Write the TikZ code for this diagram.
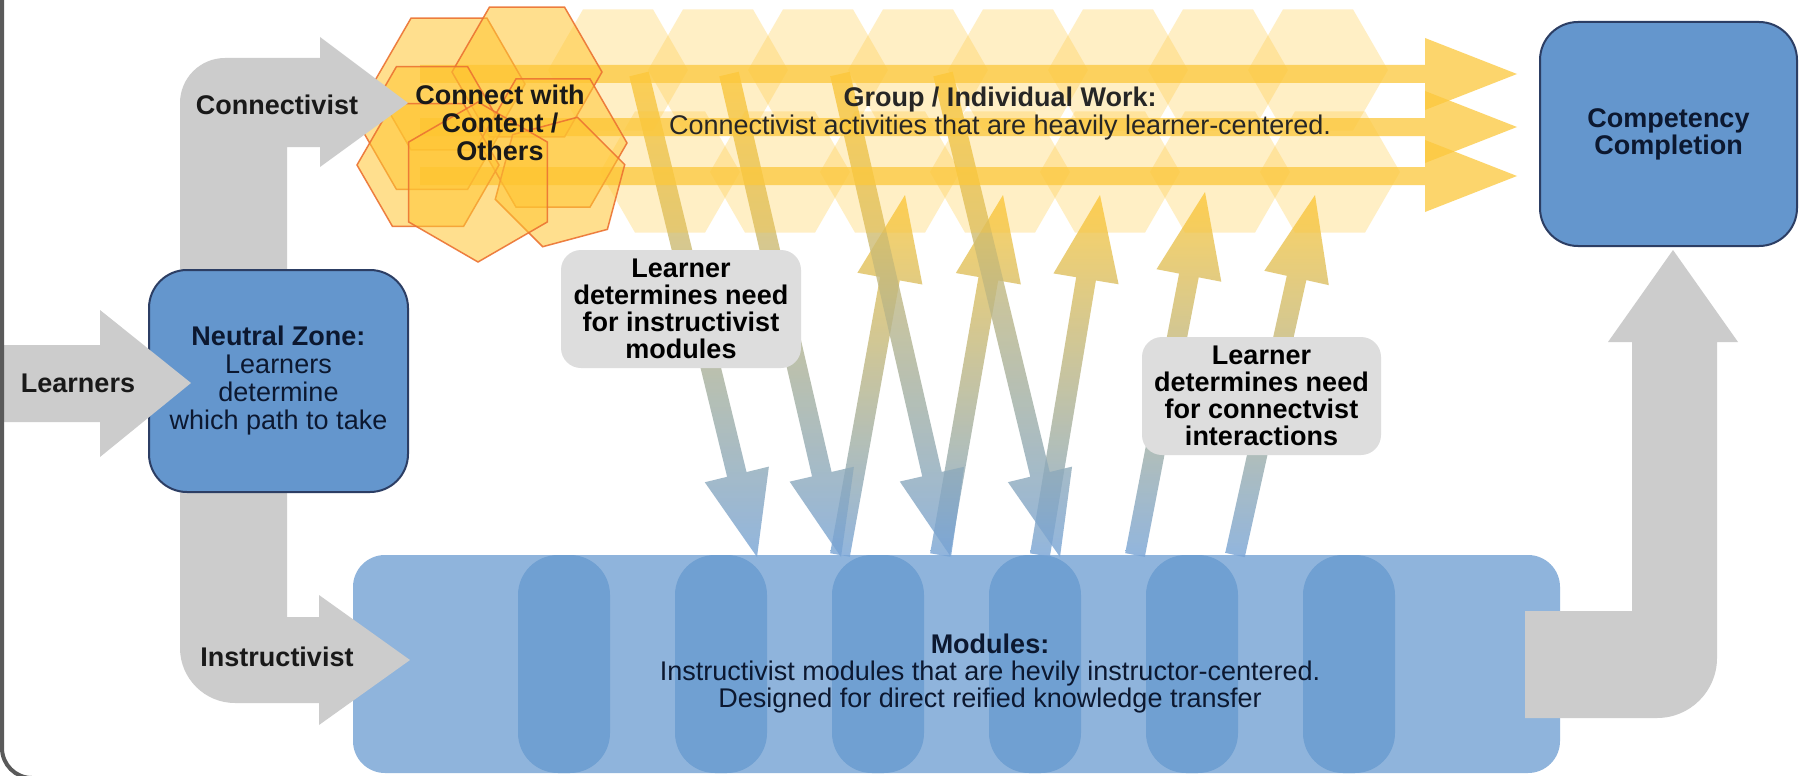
\documentclass[tikz,border=0pt]{standalone}
\usepackage{fontspec}
\setmainfont{Liberation Sans}
\usetikzlibrary{calc,shapes.geometric}

\definecolor{grayarrow}{RGB}{204,204,204}
\definecolor{boxblue}{RGB}{100,150,205}
\definecolor{boxedge}{RGB}{44,62,100}
\definecolor{modblue}{RGB}{143,180,220}
\definecolor{pillblue}{RGB}{112,160,210}
\definecolor{notegray}{RGB}{221,221,221}
\definecolor{hexyellow}{RGB}{255,198,50}
\definecolor{hexedge}{RGB}{236,115,50}
\definecolor{arrowyellow}{RGB}{252,200,60}
\definecolor{arrowblue}{RGB}{118,163,214}
\definecolor{textnavy}{RGB}{12,24,48}
\definecolor{frameline}{RGB}{90,90,90}

% wide arrow: style, from, to, half shaft, half head, head length
\newcommand{\fatarrow}[6]{%
  \coordinate (fatbase) at ($(#3)!#6!(#2)$);
  \path[#1] ($(#2)!#4!90:(#3)$) -- ($(fatbase)!#4!90:(#3)$) -- ($(fatbase)!#5!90:(#3)$) -- (#3)
    -- ($(fatbase)!#5!-90:(#3)$) -- ($(fatbase)!#4!-90:(#3)$) -- ($(#2)!#4!-90:(#3)$) -- cycle;}

\begin{document}
\begin{tikzpicture}[x=1pt, y=-1pt,
  zone node/.style={shape=rectangle, rounded corners=38pt, draw=boxedge, line width=2pt, fill=boxblue, text=textnavy, align=center, inner sep=0pt, font=\fontsize{27}{28}\selectfont},
  note node/.style={shape=rectangle, rounded corners=20pt, fill=notegray, align=center, inner sep=0pt, font=\fontsize{27}{27}\selectfont\bfseries},
  label node/.style={font=\fontsize{27}{28}\selectfont\bfseries, text=black!90, align=center},
  pill/.style={shape=rectangle, rounded corners=40pt, fill=pillblue, minimum width=92pt, minimum height=218pt, inner sep=0pt},
  hex/.style={shape=regular polygon, regular polygon sides=6, draw=hexedge, line width=1.5pt, fill=hexyellow, fill opacity=0.55, draw opacity=0.9, inner sep=0pt},
  pale hex/.style={shape=regular polygon, regular polygon sides=6, fill=hexyellow, fill opacity=0.28, inner sep=0pt, minimum size=140pt},
  gray arrow/.style={fill=grayarrow},
  band arrow/.style={fill=arrowyellow, fill opacity=0.75},
  cross arrow/.style={top color=arrowyellow, bottom color=arrowblue, fill opacity=0.8}]
\useasboundingbox (0,0) rectangle (1800,776);
\fill[white] (0,0) rectangle (1800,776);

% modules
\node[shape=rectangle, rounded corners=32pt, fill=modblue, minimum width=1207pt, minimum height=218pt, inner sep=0pt] (modules) at (956.5,664) {};
\foreach \i in {0,...,5} \node[pill] (pill\i) at ({564+157*\i},664) {};

% learner moves between the two
\coordinate (u1a) at (840,555);  \coordinate (u1b) at (905,195);
\coordinate (u2a) at (940,555);  \coordinate (u2b) at (1003,195);
\coordinate (u3a) at (1040,555); \coordinate (u3b) at (1100,195);
\coordinate (u4a) at (1135,555); \coordinate (u4b) at (1205,192);
\coordinate (u5a) at (1235,555); \coordinate (u5b) at (1315,195);
\coordinate (d1a) at (639,74);  \coordinate (d1b) at (757,557);
\coordinate (d2a) at (729,74);  \coordinate (d2b) at (841,557);
\coordinate (d3a) at (840,74);  \coordinate (d3b) at (951,557);
\coordinate (d4a) at (943,74);  \coordinate (d4b) at (1060,557);
\fatarrow{cross arrow}{u1a}{u1b}{10pt}{33pt}{85pt}
\fatarrow{cross arrow}{u2a}{u2b}{10pt}{33pt}{85pt}
\fatarrow{cross arrow}{u3a}{u3b}{10pt}{33pt}{85pt}
\fatarrow{cross arrow}{u4a}{u4b}{10pt}{33pt}{85pt}
\fatarrow{cross arrow}{u5a}{u5b}{10pt}{33pt}{85pt}
\fatarrow{cross arrow}{d1a}{d1b}{10pt}{33pt}{85pt}
\fatarrow{cross arrow}{d2a}{d2b}{10pt}{33pt}{85pt}
\fatarrow{cross arrow}{d3a}{d3b}{10pt}{33pt}{85pt}
\fatarrow{cross arrow}{d4a}{d4b}{10pt}{33pt}{85pt}

% group / individual work band
\foreach \x in {618,718,...,1318} \node[pale hex] (top\x) at (\x,70) {};
\foreach \x in {670,780,...,1330} \node[pale hex] (bot\x) at (\x,172) {};
\coordinate (g1a) at (420,74);  \coordinate (g1b) at (1517,74);
\coordinate (g2a) at (420,127); \coordinate (g2b) at (1517,127);
\coordinate (g3a) at (420,176); \coordinate (g3b) at (1517,176);
\fatarrow{band arrow}{g1a}{g1b}{9pt}{36pt}{92pt}
\fatarrow{band arrow}{g2a}{g2b}{9pt}{36pt}{92pt}
\fatarrow{band arrow}{g3a}{g3b}{9pt}{36pt}{92pt}

% connect cluster
\node[hex, minimum size=152pt] (hexa) at (449,84) {};
\node[hex, minimum size=150pt] (hexb) at (527,72) {};
\node[hex, minimum size=142pt] (hexc) at (432,128) {};
\node[hex, minimum size=148pt] (hexd) at (553,143) {};
\node[hex, minimum size=142pt] (hexf) at (428,165) {};
\node[hex, minimum size=134pt, shape border rotate=15] (hexg) at (560,182) {};
\node[hex, minimum size=160pt, shape border rotate=30] (hexe) at (478,182) {};

% paths out of the neutral zone
\fill[gray arrow] (287,147) -- (320,147) -- (320,167) -- (408,103) -- (320,37) -- (320,58) -- (225,58)
  arc[start angle=270, end angle=180, radius=45] -- (180,648) arc[start angle=180, end angle=90, radius=55]
  -- (319,703) -- (319,725) -- (410,660) -- (319,595) -- (319,617) -- (287,617) -- cycle;
\fill[gray arrow] (1525,611) -- (1632,611) -- (1632,342) -- (1608,342) -- (1673,250) -- (1738,342) -- (1717,342)
  -- (1717,658) arc[start angle=0, end angle=90, radius=60] -- (1525,718) -- cycle;

\node[zone node, minimum width=259pt, minimum height=222pt] (neutral) at (278.5,381) {\textbf{Neutral Zone:}\\Learners\\determine\\which path to take};
\fill[gray arrow] (0,345) -- (100,345) -- (100,310) -- (191,383) -- (100,457) -- (100,422) -- (0,422) -- cycle;
\node[zone node, font=\fontsize{27}{27}\selectfont\bfseries, minimum width=257pt, minimum height=224pt] (competency) at (1668.5,134) {Competency\\Completion};

\node[note node, minimum width=240pt, minimum height=118pt] (needmod) at (681,309) {Learner\\determines need\\for instructivist\\modules};
\node[note node, minimum width=239pt, minimum height=118pt] (needcon) at (1261.5,396) {Learner\\determines need\\for connectvist\\interactions};

\node[label node] (learners) at (78,383) {Learners};
\node[label node] (conlabel) at (277,105) {Connectivist};
\node[label node] (inslabel) at (277,657) {Instructivist};
\node[label node] (connect) at (500,123) {Connect with\\Content /\\Others};
\node[align=center, text=black!85, font=\fontsize{27}{28}\selectfont] (grouptext) at (1000,114) {\textbf{Group / Individual Work:}\\Connectivist activities that are heavily learner-centered.};
\node[align=center, text=textnavy, font=\fontsize{27}{27}\selectfont] (modtext) at (990,674) {\textbf{Modules:}\\Instructivist modules that are hevily instructor-centered.\\Designed for direct reified knowledge transfer};

\draw[frameline, line width=4pt, rounded corners=30pt] (2,-10) -- (2,778) -- (60,778);
\end{tikzpicture}
\end{document}
